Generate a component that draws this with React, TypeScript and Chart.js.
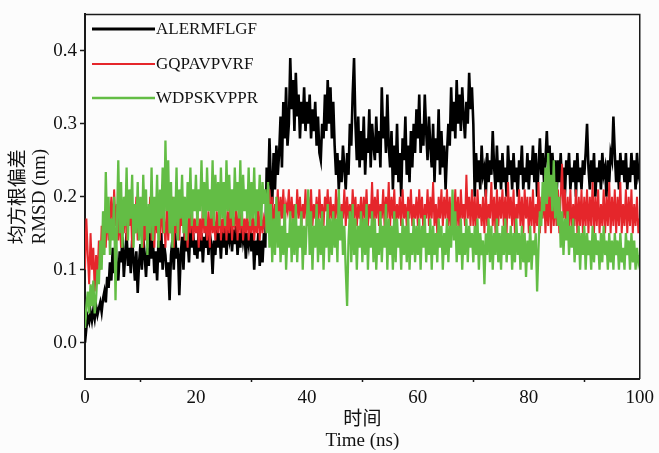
import { useEffect, useRef } from "react";
import { Chart, registerables } from "chart.js";

Chart.register(...registerables);

// ---- data (RMSD in nm, sampled every TIME_STEP ns from 0 to 100 ns) ----
const TIME_STEP = 0.25;
const SERIES_NAMES = ["ALERMFLGF", "GQPAVPVRF", "WDPSKVPPR"];
const SERIES_COLORS = ["#000000", "#e5262b", "#63bd45"];

const ALERMFLGF = [
  0.0, 0.02, 0.035, 0.028, 0.042, 0.03, 0.045, 0.033, 0.05, 0.038, 0.047, 0.055, 0.042, 0.06, 0.07, 0.055, 0.09, 0.075, 0.11, 0.085,
  0.13, 0.095, 0.14, 0.1, 0.085, 0.125, 0.11, 0.145, 0.09, 0.12, 0.15, 0.105, 0.13, 0.095, 0.14, 0.115, 0.085, 0.125, 0.068, 0.11,
  0.135, 0.1, 0.145, 0.12, 0.09, 0.13, 0.105, 0.15, 0.115, 0.14, 0.095, 0.125, 0.085, 0.14, 0.11, 0.15, 0.1, 0.135, 0.12, 0.09,
  0.11, 0.058, 0.12, 0.14, 0.1, 0.15, 0.115, 0.13, 0.065, 0.12, 0.145, 0.1, 0.155, 0.125, 0.14, 0.11, 0.16, 0.13, 0.15, 0.12,
  0.14, 0.115, 0.155, 0.125, 0.15, 0.11, 0.145, 0.13, 0.16, 0.12, 0.15, 0.135, 0.094, 0.14, 0.12, 0.16, 0.13, 0.15, 0.115, 0.155,
  0.13, 0.16, 0.12, 0.15, 0.14, 0.165, 0.125, 0.155, 0.135, 0.16, 0.12, 0.15, 0.13, 0.165, 0.14, 0.155, 0.115, 0.15, 0.135, 0.16,
  0.125, 0.15, 0.1, 0.14, 0.12, 0.15, 0.105, 0.14, 0.11, 0.15, 0.13, 0.24, 0.2, 0.28, 0.22, 0.19, 0.26, 0.21, 0.27, 0.23,
  0.26, 0.31, 0.24, 0.33, 0.28, 0.35, 0.27, 0.3, 0.39, 0.32, 0.36, 0.29, 0.37, 0.31, 0.34, 0.28, 0.33, 0.3, 0.35, 0.29,
  0.33, 0.3, 0.34, 0.28, 0.32, 0.29, 0.33, 0.27, 0.31, 0.26, 0.25, 0.3, 0.28, 0.34, 0.29, 0.36, 0.3, 0.35, 0.28, 0.33,
  0.27, 0.23, 0.26, 0.21, 0.25, 0.22, 0.27, 0.24, 0.21, 0.26, 0.23, 0.3, 0.27, 0.34, 0.39, 0.3, 0.25, 0.31, 0.24, 0.29,
  0.25, 0.31, 0.23, 0.28, 0.26, 0.32, 0.24, 0.3, 0.27, 0.25, 0.31, 0.26, 0.29, 0.24, 0.35, 0.28, 0.31, 0.26, 0.34, 0.27,
  0.24, 0.29, 0.21, 0.27, 0.23, 0.3, 0.22, 0.26, 0.2, 0.28, 0.25, 0.31, 0.23, 0.27, 0.22, 0.29, 0.24, 0.3, 0.26, 0.32,
  0.28, 0.34, 0.26, 0.3, 0.27, 0.34, 0.29, 0.25, 0.31, 0.27, 0.24, 0.3, 0.22, 0.28, 0.25, 0.32, 0.23, 0.29, 0.24, 0.27,
  0.21, 0.26, 0.3, 0.27, 0.35, 0.29, 0.33, 0.28, 0.36, 0.3, 0.34, 0.29, 0.35, 0.31, 0.28, 0.33, 0.3, 0.37, 0.32, 0.35,
  0.3, 0.2, 0.26, 0.22, 0.25, 0.21, 0.27, 0.23, 0.24, 0.2, 0.26, 0.22, 0.25, 0.23, 0.29, 0.24, 0.21, 0.27, 0.22, 0.25,
  0.21, 0.26, 0.22, 0.24, 0.2, 0.27, 0.23, 0.25, 0.21, 0.26, 0.22, 0.24, 0.2, 0.25, 0.23, 0.27, 0.21, 0.24, 0.22, 0.26,
  0.21, 0.25, 0.23, 0.27, 0.22, 0.26, 0.2, 0.24, 0.28, 0.23, 0.26, 0.22, 0.25, 0.29, 0.24, 0.27, 0.21, 0.26, 0.23, 0.25,
  0.2, 0.25, 0.22, 0.26, 0.21, 0.24, 0.2, 0.25, 0.23, 0.26, 0.21, 0.24, 0.22, 0.25, 0.2, 0.26, 0.22, 0.24, 0.21, 0.25,
  0.23, 0.26, 0.3, 0.24, 0.21, 0.25, 0.22, 0.26, 0.2, 0.24, 0.22, 0.25, 0.21, 0.26, 0.23, 0.24, 0.2, 0.25, 0.22, 0.26,
  0.25, 0.31, 0.26, 0.22, 0.25, 0.21, 0.26, 0.23, 0.25, 0.22, 0.26, 0.21, 0.24, 0.22, 0.26, 0.23, 0.25, 0.21, 0.26, 0.23,
  0.24,
];

const GQPAVPVRF = [
  0.1, 0.17, 0.12, 0.08, 0.15, 0.1, 0.13, 0.07, 0.12, 0.09, 0.14, 0.1, 0.16, 0.12, 0.18, 0.13, 0.19, 0.14, 0.17, 0.2,
  0.15, 0.21, 0.16, 0.19, 0.14, 0.18, 0.13, 0.17, 0.15, 0.2, 0.14, 0.18, 0.16, 0.19, 0.13, 0.17, 0.15, 0.2, 0.14, 0.18,
  0.15, 0.19, 0.13, 0.17, 0.14, 0.18, 0.16, 0.2, 0.14, 0.17, 0.13, 0.19, 0.15, 0.18, 0.14, 0.2, 0.15, 0.17, 0.13, 0.19,
  0.14, 0.18, 0.15, 0.2, 0.13, 0.17, 0.15, 0.19, 0.14, 0.18, 0.16, 0.2, 0.14, 0.17, 0.13, 0.18, 0.15, 0.19, 0.14, 0.17,
  0.15, 0.18, 0.13, 0.17, 0.14, 0.19, 0.15, 0.17, 0.14, 0.18, 0.13, 0.19, 0.15, 0.17, 0.14, 0.18, 0.15, 0.19, 0.14, 0.17,
  0.15, 0.19, 0.14, 0.18, 0.15, 0.2, 0.14, 0.17, 0.16, 0.19, 0.14, 0.18, 0.15, 0.19, 0.14, 0.17, 0.15, 0.18, 0.14, 0.17,
  0.15, 0.18, 0.14, 0.17, 0.15, 0.19, 0.14, 0.18, 0.15, 0.17, 0.16, 0.2, 0.17, 0.21, 0.16, 0.2, 0.15, 0.19, 0.17, 0.21,
  0.16, 0.2, 0.17, 0.21, 0.16, 0.19, 0.18, 0.21, 0.16, 0.2, 0.17, 0.19, 0.16, 0.21, 0.17, 0.2, 0.16, 0.19, 0.17, 0.21,
  0.16, 0.2, 0.17, 0.21, 0.16, 0.19, 0.17, 0.2, 0.16, 0.21, 0.17, 0.19, 0.16, 0.2, 0.18, 0.21, 0.16, 0.2, 0.17, 0.19,
  0.16, 0.21, 0.17, 0.2, 0.16, 0.19, 0.17, 0.21, 0.16, 0.2, 0.17, 0.19, 0.16, 0.21, 0.17, 0.2, 0.16, 0.19, 0.17, 0.2,
  0.16, 0.2, 0.17, 0.21, 0.16, 0.19, 0.17, 0.22, 0.16, 0.2, 0.17, 0.21, 0.16, 0.19, 0.17, 0.21, 0.16, 0.2, 0.17, 0.22,
  0.16, 0.2, 0.17, 0.21, 0.16, 0.19, 0.17, 0.2, 0.16, 0.21, 0.17, 0.19, 0.16, 0.2, 0.17, 0.21, 0.16, 0.19, 0.17, 0.2,
  0.16, 0.21, 0.17, 0.2, 0.15, 0.19, 0.17, 0.21, 0.16, 0.2, 0.17, 0.22, 0.16, 0.19, 0.15, 0.2, 0.17, 0.21, 0.16, 0.2,
  0.17, 0.21, 0.16, 0.2, 0.15, 0.19, 0.17, 0.21, 0.16, 0.2, 0.15, 0.21, 0.17, 0.19, 0.16, 0.23, 0.17, 0.2, 0.16, 0.21,
  0.16, 0.2, 0.15, 0.21, 0.17, 0.19, 0.16, 0.2, 0.15, 0.21, 0.16, 0.19, 0.17, 0.22, 0.16, 0.2, 0.15, 0.21, 0.16, 0.2,
  0.17, 0.21, 0.16, 0.2, 0.15, 0.22, 0.17, 0.2, 0.16, 0.21, 0.15, 0.19, 0.17, 0.21, 0.16, 0.2, 0.15, 0.21, 0.17, 0.2,
  0.15, 0.2, 0.16, 0.21, 0.15, 0.19, 0.16, 0.22, 0.15, 0.2, 0.17, 0.21, 0.15, 0.2, 0.16, 0.22, 0.15, 0.21, 0.16, 0.2,
  0.16, 0.21, 0.15, 0.2, 0.245, 0.17, 0.21, 0.15, 0.2, 0.16, 0.21, 0.15, 0.19, 0.16, 0.21, 0.15, 0.2, 0.16, 0.21, 0.15,
  0.2, 0.16, 0.21, 0.15, 0.2, 0.16, 0.22, 0.15, 0.2, 0.16, 0.21, 0.15, 0.19, 0.16, 0.21, 0.15, 0.2, 0.16, 0.22, 0.15,
  0.2, 0.16, 0.21, 0.15, 0.2, 0.16, 0.22, 0.15, 0.19, 0.16, 0.21, 0.15, 0.2, 0.16, 0.21, 0.15, 0.19, 0.16, 0.2, 0.15,
  0.17,
];

const WDPSKVPPR = [
  0.02, 0.05, 0.07, 0.04, 0.08, 0.05, 0.085, 0.04, 0.06, 0.1, 0.08, 0.14, 0.1, 0.18, 0.12, 0.234, 0.15, 0.2, 0.12, 0.17,
  0.14, 0.2, 0.058, 0.16, 0.25, 0.15, 0.22, 0.13, 0.2, 0.16, 0.24, 0.14, 0.21, 0.17, 0.23, 0.13, 0.19, 0.15, 0.22, 0.14,
  0.2, 0.13, 0.23, 0.16, 0.21, 0.12, 0.19, 0.15, 0.24, 0.14, 0.2, 0.16, 0.23, 0.13, 0.21, 0.17, 0.24, 0.15, 0.277, 0.18,
  0.25, 0.15, 0.22, 0.13, 0.2, 0.16, 0.24, 0.14, 0.21, 0.17, 0.23, 0.15, 0.2, 0.14, 0.22, 0.17, 0.24, 0.16, 0.21, 0.18,
  0.23, 0.16, 0.21, 0.18, 0.25, 0.17, 0.22, 0.16, 0.24, 0.18, 0.21, 0.17, 0.25, 0.16, 0.23, 0.18, 0.22, 0.16, 0.24, 0.17,
  0.22, 0.16, 0.25, 0.18, 0.23, 0.17, 0.21, 0.16, 0.24, 0.18, 0.22, 0.17, 0.25, 0.16, 0.23, 0.18, 0.21, 0.17, 0.24, 0.16,
  0.22, 0.17, 0.24, 0.16, 0.21, 0.18, 0.23, 0.16, 0.22, 0.19, 0.21, 0.15, 0.22, 0.13, 0.19, 0.11, 0.17, 0.12, 0.2, 0.13,
  0.18, 0.11, 0.16, 0.12, 0.19, 0.1, 0.15, 0.13, 0.18, 0.11, 0.17, 0.12, 0.19, 0.11, 0.16, 0.13, 0.18, 0.1, 0.16, 0.12,
  0.17, 0.21, 0.12, 0.18, 0.1, 0.16, 0.13, 0.19, 0.11, 0.17, 0.12, 0.18, 0.1, 0.16, 0.13, 0.19, 0.11, 0.17, 0.12, 0.18,
  0.13, 0.17, 0.11, 0.21, 0.14, 0.18, 0.12, 0.16, 0.1, 0.05, 0.14, 0.18, 0.11, 0.19, 0.12, 0.17, 0.1, 0.16, 0.13, 0.18,
  0.11, 0.17, 0.12, 0.19, 0.1, 0.16, 0.13, 0.18, 0.11, 0.17, 0.1, 0.15, 0.12, 0.18, 0.11, 0.16, 0.13, 0.19, 0.1, 0.17,
  0.12, 0.16, 0.1, 0.18, 0.11, 0.17, 0.13, 0.15, 0.1, 0.17, 0.12, 0.16, 0.11, 0.18, 0.1, 0.15, 0.12, 0.17, 0.11, 0.16,
  0.12, 0.17, 0.1, 0.16, 0.13, 0.175, 0.11, 0.15, 0.12, 0.17, 0.1, 0.16, 0.12, 0.15, 0.11, 0.17, 0.13, 0.16, 0.1, 0.15,
  0.12, 0.17, 0.11, 0.16, 0.13, 0.21, 0.14, 0.18, 0.11, 0.16, 0.12, 0.17, 0.1, 0.15, 0.12, 0.17, 0.11, 0.16, 0.13, 0.15,
  0.11, 0.16, 0.12, 0.17, 0.1, 0.15, 0.12, 0.14, 0.08, 0.15, 0.12, 0.17, 0.11, 0.16, 0.1, 0.15, 0.12, 0.17, 0.11, 0.15,
  0.1, 0.16, 0.12, 0.17, 0.11, 0.15, 0.12, 0.16, 0.1, 0.15, 0.11, 0.17, 0.12, 0.15, 0.1, 0.16, 0.11, 0.15, 0.09, 0.14,
  0.11, 0.16, 0.1, 0.14, 0.12, 0.15, 0.07, 0.13, 0.18, 0.16, 0.22, 0.18, 0.24, 0.19, 0.26, 0.2, 0.23, 0.18, 0.25, 0.17,
  0.22, 0.16, 0.2, 0.13, 0.18, 0.12, 0.17, 0.14, 0.18, 0.12, 0.16, 0.13, 0.17, 0.11, 0.15, 0.12, 0.16, 0.1, 0.15, 0.12,
  0.16, 0.1, 0.15, 0.12, 0.14, 0.1, 0.16, 0.11, 0.15, 0.12, 0.14, 0.1, 0.15, 0.11, 0.16, 0.12, 0.14, 0.1, 0.15, 0.11,
  0.14, 0.1, 0.15, 0.12, 0.14, 0.1, 0.15, 0.11, 0.13, 0.1, 0.15, 0.12, 0.14, 0.1, 0.15, 0.11, 0.14, 0.1, 0.13, 0.11,
  0.12,
];

const SERIES_VALUES = [ALERMFLGF, GQPAVPVRF, WDPSKVPPR];
const SERIES_WIDTHS = [2.6, 2, 2.3];

const Y_TICKS = [0, 0.1, 0.2, 0.3, 0.4];
const X_TICKS = [0, 10, 20, 30, 40, 50, 60, 70, 80, 90, 100];
const X_LABELED = [0, 20, 40, 60, 80, 100];
const Y_TITLE = ["均方根偏差", "RMSD (nm)"];
const X_TITLE = ["时间", "Time (ns)"];

const FONT = "'Liberation Serif', 'Times New Roman', 'Noto Sans CJK SC', serif";

const framePlugin = {
  id: "frameAndLegend",
  afterDatasetsDraw(chart: any) {
    const { ctx, chartArea } = chart;
    const { left, right, top, bottom } = chartArea;
    ctx.save();
    ctx.strokeStyle = "#1a1a1a";
    ctx.lineWidth = 1.5;
    ctx.beginPath();
    ctx.moveTo(left, top);
    ctx.lineTo(right, top);
    ctx.lineTo(right, bottom);
    ctx.stroke();

    // legend inside plot, top-left
    const rowYs = [29, 64, 98];
    const legendWidths = [3, 2, 2.5];
    ctx.font = `17px ${FONT}`;
    ctx.textBaseline = "middle";
    ctx.textAlign = "left";
    SERIES_NAMES.forEach((name, i) => {
      const y = rowYs[i];
      ctx.strokeStyle = SERIES_COLORS[i];
      ctx.lineWidth = legendWidths[i];
      ctx.beginPath();
      ctx.moveTo(left + 7, y);
      ctx.lineTo(left + 70, y);
      ctx.stroke();
      ctx.fillStyle = "#111";
      ctx.fillText(name, left + 71, y + 1);
    });
    ctx.restore();
  },
};

export default function App() {
  const canvasRef = useRef<HTMLCanvasElement | null>(null);

  useEffect(() => {
    const canvas = canvasRef.current;
    if (!canvas) return;

    const datasets = SERIES_NAMES.map((name, i) => ({
      label: name,
      data: SERIES_VALUES[i].map((v, k) => ({ x: k * TIME_STEP, y: v })),
      borderColor: SERIES_COLORS[i],
      backgroundColor: SERIES_COLORS[i],
      borderWidth: SERIES_WIDTHS[i],
      pointRadius: 0,
      tension: 0,
      fill: false,
      order: 3 - i,
    }));

    const chart = new Chart(canvas, {
      type: "line",
      data: { datasets },
      plugins: [framePlugin],
      options: {
        responsive: false,
        animation: false,
        layout: { padding: { left: 0, top: 11, right: 16, bottom: 0 } },
        plugins: {
          legend: { display: false },
          tooltip: { enabled: false },
        },
        scales: {
          x: {
            type: "linear",
            min: 0,
            max: 100,
            afterBuildTicks: (scale: any) => {
              scale.ticks = X_TICKS.map((v) => ({ value: v }));
            },
            afterFit: (scale: any) => {
              scale.height = 74;
            },
            ticks: {
              autoSkip: false,
              maxRotation: 0,
              padding: 5,
              color: "#111",
              font: { family: FONT, size: 19 },
              callback: (v: any) => (X_LABELED.includes(Number(v)) ? String(v) : ""),
            },
            grid: {
              drawOnChartArea: false,
              tickLength: 3,
              tickWidth: 1.5,
              tickColor: (c: any) =>
                c.tick && X_LABELED.includes(c.tick.value) ? "rgba(0,0,0,0)" : "#1a1a1a",
            },
            border: { display: true, color: "#1a1a1a", width: 2 },
            title: {
              display: true,
              text: X_TITLE,
              color: "#111",
              font: { family: FONT, size: 19, lineHeight: 1.1 },
              padding: { top: 0, bottom: 2 },
            },
          },
          y: {
            type: "linear",
            min: -0.05,
            max: 0.45,
            afterBuildTicks: (scale: any) => {
              scale.ticks = Y_TICKS.map((v) => ({ value: v }));
            },
            afterFit: (scale: any) => {
              scale.width = 85;
            },
            ticks: {
              padding: 3,
              color: "#111",
              font: { family: FONT, size: 19 },
              callback: (v: any) => Number(v).toFixed(1),
            },
            grid: {
              drawOnChartArea: false,
              tickLength: 5,
              tickWidth: 1.5,
              tickColor: "#1a1a1a",
            },
            border: { display: true, color: "#1a1a1a", width: 2 },
            title: {
              display: true,
              text: Y_TITLE,
              color: "#111",
              font: { family: FONT, size: 19, lineHeight: 1.1 },
              padding: { top: 9, bottom: 0 },
            },
          },
        },
      },
    } as any);

    return () => chart.destroy();
  }, []);

  return (
    <div style={{ position: "fixed", left: 0, top: 0, width: 659, height: 453, background: "#fcfcfc" }}>
      <canvas ref={canvasRef} width={659} height={453} style={{ display: "block" }} />
    </div>
  );
}
